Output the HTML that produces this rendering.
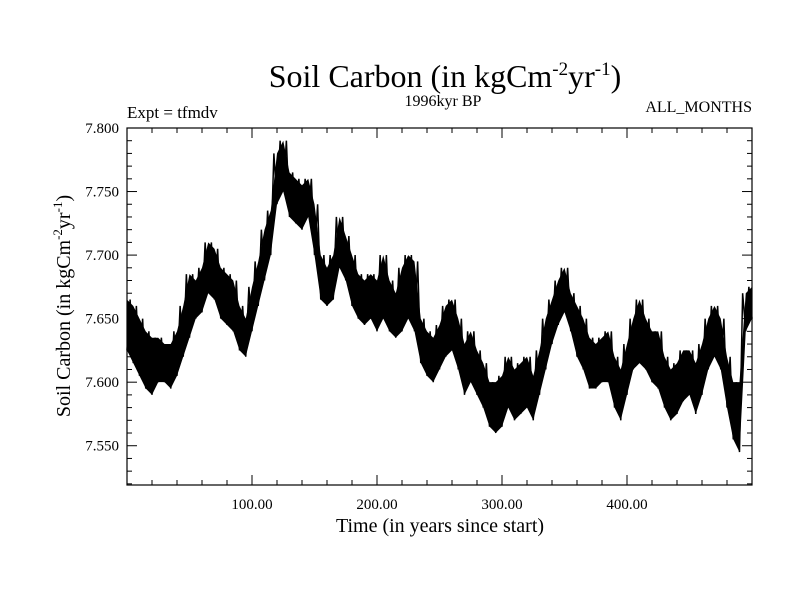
<!DOCTYPE html>
<html><head><meta charset="utf-8"><style>body{margin:0;background:#fff}svg{display:block}text{font-family:"Liberation Serif",serif;fill:#000}</style></head>
<body>
<svg id="c" width="800" height="600">
<text x="445" y="87" font-size="32" text-anchor="middle">Soil Carbon (in kgCm<tspan font-size="19" dy="-12">-2</tspan><tspan dy="12">yr</tspan><tspan font-size="19" dy="-12">-1</tspan><tspan dy="12">)</tspan></text>
<text x="443" y="106" font-size="16" text-anchor="middle">1996kyr BP</text>
<text x="127" y="118" font-size="17">Expt = tfmdv</text>
<text x="752" y="112" font-size="16" text-anchor="end">ALL_MONTHS</text>
<text x="440" y="532" font-size="20" text-anchor="middle">Time (in years since start)</text>
<text transform="translate(70,306) rotate(-90)" font-size="20" text-anchor="middle">Soil Carbon (in kgCm<tspan font-size="13" dy="-8">-2</tspan><tspan dy="8">yr</tspan><tspan font-size="13" dy="-8">-1</tspan><tspan dy="8">)</tspan></text>
<g id="plot"></g>
</svg>
<script>
const years=[0,5,10,15,20,25,30,35,40,45,50,55,60,65,70,75,80,85,90,95,100,105,110,115,120,125,130,135,140,145,150,155,160,165,170,175,180,185,190,195,200,205,210,215,220,225,230,235,240,245,250,255,260,265,270,275,280,285,290,295,300,305,310,315,320,325,330,335,340,345,350,355,360,365,370,375,380,385,390,395,400,405,410,415,420,425,430,435,440,445,450,455,460,465,470,475,480,485,490,495,500];
const lowVals=[7.625,7.615,7.605,7.595,7.590,7.600,7.600,7.595,7.605,7.620,7.635,7.650,7.655,7.670,7.665,7.650,7.645,7.640,7.625,7.620,7.640,7.660,7.680,7.700,7.740,7.750,7.730,7.725,7.720,7.730,7.700,7.665,7.660,7.665,7.690,7.680,7.660,7.650,7.645,7.650,7.640,7.650,7.640,7.635,7.640,7.650,7.640,7.615,7.605,7.600,7.610,7.620,7.625,7.610,7.590,7.600,7.590,7.580,7.565,7.560,7.565,7.580,7.570,7.575,7.580,7.570,7.590,7.610,7.630,7.645,7.655,7.640,7.620,7.610,7.595,7.595,7.600,7.600,7.580,7.570,7.590,7.610,7.615,7.610,7.600,7.595,7.580,7.570,7.575,7.585,7.590,7.575,7.590,7.610,7.620,7.610,7.580,7.555,7.545,7.640,7.650];
const highVals=[7.665,7.660,7.650,7.640,7.635,7.635,7.630,7.630,7.640,7.660,7.685,7.680,7.690,7.710,7.705,7.690,7.685,7.680,7.660,7.650,7.675,7.695,7.720,7.735,7.780,7.790,7.765,7.760,7.755,7.760,7.740,7.700,7.690,7.700,7.730,7.715,7.700,7.685,7.680,7.685,7.680,7.700,7.680,7.670,7.690,7.700,7.695,7.650,7.640,7.635,7.645,7.660,7.665,7.650,7.630,7.640,7.625,7.615,7.600,7.600,7.605,7.620,7.610,7.615,7.620,7.605,7.625,7.650,7.665,7.680,7.690,7.670,7.660,7.650,7.635,7.630,7.635,7.640,7.620,7.610,7.630,7.650,7.665,7.650,7.640,7.640,7.620,7.610,7.615,7.625,7.625,7.615,7.630,7.650,7.660,7.650,7.620,7.600,7.600,7.670,7.675];
const xTicks=[100,200,300,400];
const xTickLabels=["100.00","200.00","300.00","400.00"];
const yTicks=[7.55,7.6,7.65,7.7,7.75,7.8];
const yTickLabels=["7.550","7.600","7.650","7.700","7.750","7.800"];
const L=127,R=752,T=128,B=485,X0=0,X1=500,Y0=7.5191,Y1=7.8;
const sx=v=>L+(v-X0)/(X1-X0)*(R-L);
const sy=v=>B-(v-Y0)/(Y1-Y0)*(B-T);
const NS='http://www.w3.org/2000/svg';
const g=document.getElementById('plot');
function mk(t,a){const e=document.createElementNS(NS,t);for(const k in a)e.setAttribute(k,a[k]);g.appendChild(e);return e;}
let pts=[];
for(let i=0;i<years.length;i++)pts.push(sx(years[i])+','+sy(highVals[i]));
for(let i=years.length-1;i>=0;i--)pts.push(sx(years[i])+','+sy(lowVals[i]));
const band=mk('polygon',{points:pts.join(' '),fill:'#000'});


let z=[];
for(let i=0;i<years.length;i++){z.push(sx(years[i])+','+sy(lowVals[i]));if(i<years.length-1){z.push(((sx(years[i])+sx(years[i+1]))/2)+','+sy(Math.max(highVals[i],highVals[i+1])));}}
const line=mk('polyline',{points:z.join(' '),fill:'none',stroke:'#000','stroke-width':1.5});


const fr=mk('rect',{x:L,y:T,width:R-L,height:B-T,fill:'none',stroke:'#000','stroke-width':1.2});


for(let v=20;v<X1;v+=20){const maj=v%100===0;const x=sx(v);mk('line',{x1:x,x2:x,y1:B,y2:B-(maj?10:5),stroke:'#000'});mk('line',{x1:x,x2:x,y1:T,y2:T+(maj?10:5),stroke:'#000'});}
xTicks.forEach((v,i)=>{const t=mk('text',{x:sx(v),y:B+24,'font-size':15,'text-anchor':'middle'});t.textContent=xTickLabels[i];

});
for(let k=752;k<=780;k++){const v=k/100;const y=sy(v);const maj=k%5===0;mk('line',{x1:L,x2:L+(maj?10:5),y1:y,y2:y,stroke:'#000'});mk('line',{x1:R,x2:R-(maj?10:5),y1:y,y2:y,stroke:'#000'});}
yTicks.forEach((v,i)=>{const t=mk('text',{x:L-8,y:sy(v)+5,'font-size':15,'text-anchor':'end'});t.textContent=yTickLabels[i];

});
</script>
</body></html>
